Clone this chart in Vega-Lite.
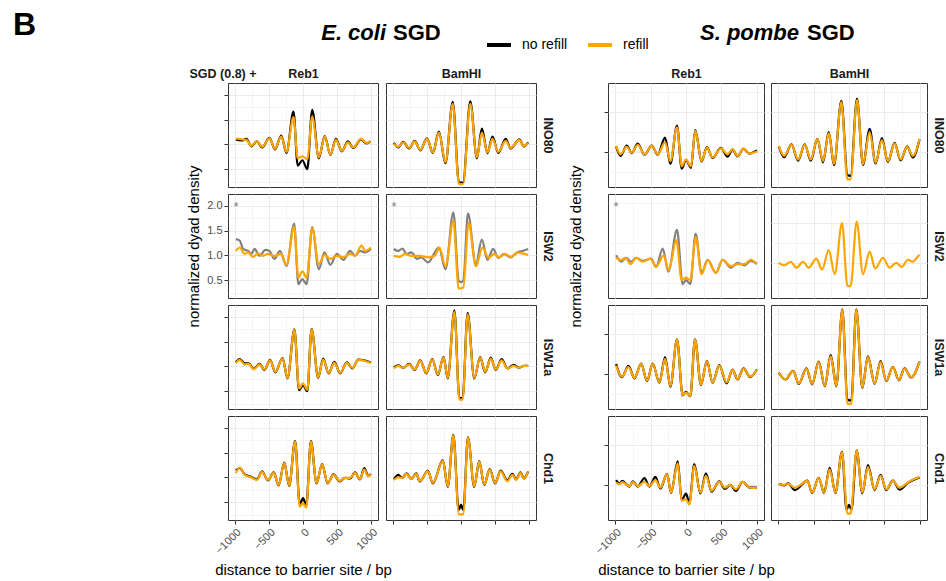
{
"$schema": "https://vega.github.io/schema/vega-lite/v6.json",
"padding": {"left": 12, "top": 8, "right": 4, "bottom": 2},
"title": {"text": "B", "orient": "left", "anchor": "end", "angle": 0, "align": "right", "baseline": "top", "fontSize": 32, "offset": 127, "dy": -12},
"datasets": {
"E_Reb1_INO80": [
{"cond":"no refill","x":-985,"y":1.10},{"cond":"no refill","x":-900,"y":1.08},{"cond":"no refill","x":-830,"y":1.11},{"cond":"no refill","x":-758,"y":0.96},{"cond":"no refill","x":-676,"y":1.06},{"cond":"no refill","x":-599,"y":0.94},{"cond":"no refill","x":-493,"y":1.13},{"cond":"no refill","x":-411,"y":0.90},{"cond":"no refill","x":-319,"y":1.18},{"cond":"no refill","x":-242,"y":0.83},{"cond":"no refill","x":-140,"y":1.66},{"cond":"no refill","x":-77,"y":0.57},{"cond":"no refill","x":-10,"y":0.68},{"cond":"no refill","x":63,"y":0.50},{"cond":"no refill","x":135,"y":1.70},{"cond":"no refill","x":232,"y":0.72},{"cond":"no refill","x":319,"y":1.17},{"cond":"no refill","x":401,"y":0.79},{"cond":"no refill","x":483,"y":1.11},{"cond":"no refill","x":570,"y":0.86},{"cond":"no refill","x":657,"y":1.06},{"cond":"no refill","x":739,"y":0.93},{"cond":"no refill","x":850,"y":1.10},{"cond":"no refill","x":932,"y":1.02},{"cond":"no refill","x":990,"y":1.06},
{"cond":"refill","x":-985,"y":1.12},{"cond":"refill","x":-900,"y":1.10},{"cond":"refill","x":-830,"y":1.09},{"cond":"refill","x":-758,"y":0.97},{"cond":"refill","x":-676,"y":1.06},{"cond":"refill","x":-599,"y":0.95},{"cond":"refill","x":-493,"y":1.12},{"cond":"refill","x":-411,"y":0.91},{"cond":"refill","x":-319,"y":1.16},{"cond":"refill","x":-242,"y":0.85},{"cond":"refill","x":-140,"y":1.55},{"cond":"refill","x":-77,"y":0.72},{"cond":"refill","x":-10,"y":0.76},{"cond":"refill","x":63,"y":0.70},{"cond":"refill","x":135,"y":1.56},{"cond":"refill","x":232,"y":0.74},{"cond":"refill","x":319,"y":1.16},{"cond":"refill","x":401,"y":0.80},{"cond":"refill","x":483,"y":1.09},{"cond":"refill","x":570,"y":0.87},{"cond":"refill","x":657,"y":1.04},{"cond":"refill","x":739,"y":0.94},{"cond":"refill","x":850,"y":1.11},{"cond":"refill","x":932,"y":1.03},{"cond":"refill","x":990,"y":1.06}
],
"E_BamHI_INO80": [
{"cond":"no refill","x":-985,"y":1.03},{"cond":"no refill","x":-921,"y":0.94},{"cond":"no refill","x":-849,"y":1.05},{"cond":"no refill","x":-761,"y":0.92},{"cond":"no refill","x":-679,"y":1.07},{"cond":"no refill","x":-597,"y":0.88},{"cond":"no refill","x":-500,"y":1.12},{"cond":"no refill","x":-412,"y":0.83},{"cond":"no refill","x":-325,"y":1.26},{"cond":"no refill","x":-228,"y":0.62},{"cond":"no refill","x":-121,"y":1.86},{"cond":"no refill","x":-30,"y":0.23},{"cond":"no refill","x":30,"y":0.23},{"cond":"no refill","x":136,"y":1.87},{"cond":"no refill","x":233,"y":0.72},{"cond":"no refill","x":306,"y":1.32},{"cond":"no refill","x":388,"y":0.82},{"cond":"no refill","x":461,"y":1.16},{"cond":"no refill","x":548,"y":0.83},{"cond":"no refill","x":655,"y":1.11},{"cond":"no refill","x":728,"y":0.92},{"cond":"no refill","x":858,"y":1.10},{"cond":"no refill","x":921,"y":0.96},{"cond":"no refill","x":985,"y":1.04},
{"cond":"refill","x":-985,"y":1.02},{"cond":"refill","x":-921,"y":0.95},{"cond":"refill","x":-849,"y":1.04},{"cond":"refill","x":-761,"y":0.93},{"cond":"refill","x":-679,"y":1.06},{"cond":"refill","x":-597,"y":0.89},{"cond":"refill","x":-500,"y":1.11},{"cond":"refill","x":-412,"y":0.84},{"cond":"refill","x":-325,"y":1.24},{"cond":"refill","x":-228,"y":0.64},{"cond":"refill","x":-121,"y":1.82},{"cond":"refill","x":-30,"y":0.20},{"cond":"refill","x":30,"y":0.20},{"cond":"refill","x":136,"y":1.82},{"cond":"refill","x":233,"y":0.74},{"cond":"refill","x":306,"y":1.24},{"cond":"refill","x":388,"y":0.84},{"cond":"refill","x":461,"y":1.11},{"cond":"refill","x":548,"y":0.85},{"cond":"refill","x":655,"y":1.07},{"cond":"refill","x":728,"y":0.93},{"cond":"refill","x":858,"y":1.09},{"cond":"refill","x":921,"y":0.97},{"cond":"refill","x":985,"y":1.03}
],
"E_Reb1_ISW2": [
{"cond":"*no refill","x":-985,"y":1.33},{"cond":"*no refill","x":-927,"y":1.30},{"cond":"*no refill","x":-879,"y":1.13},{"cond":"*no refill","x":-807,"y":1.09},{"cond":"*no refill","x":-758,"y":1.03},{"cond":"*no refill","x":-710,"y":1.13},{"cond":"*no refill","x":-638,"y":0.99},{"cond":"*no refill","x":-551,"y":1.11},{"cond":"*no refill","x":-493,"y":1.09},{"cond":"*no refill","x":-420,"y":0.93},{"cond":"*no refill","x":-338,"y":1.09},{"cond":"*no refill","x":-242,"y":0.79},{"cond":"*no refill","x":-130,"y":1.64},{"cond":"*no refill","x":-68,"y":0.42},{"cond":"*no refill","x":-10,"y":0.52},{"cond":"*no refill","x":53,"y":0.42},{"cond":"*no refill","x":135,"y":1.57},{"cond":"*no refill","x":232,"y":0.72},{"cond":"*no refill","x":314,"y":1.06},{"cond":"*no refill","x":401,"y":0.81},{"cond":"*no refill","x":497,"y":1.03},{"cond":"*no refill","x":594,"y":0.91},{"cond":"*no refill","x":691,"y":1.09},{"cond":"*no refill","x":763,"y":0.99},{"cond":"*no refill","x":836,"y":1.09},{"cond":"*no refill","x":908,"y":1.06},{"cond":"*no refill","x":995,"y":1.13},
{"cond":"refill","x":-985,"y":1.09},{"cond":"refill","x":-927,"y":1.16},{"cond":"refill","x":-855,"y":1.03},{"cond":"refill","x":-807,"y":1.06},{"cond":"refill","x":-734,"y":0.97},{"cond":"refill","x":-662,"y":1.04},{"cond":"refill","x":-589,"y":0.99},{"cond":"refill","x":-517,"y":1.03},{"cond":"refill","x":-420,"y":0.99},{"cond":"refill","x":-324,"y":1.03},{"cond":"refill","x":-242,"y":0.81},{"cond":"refill","x":-130,"y":1.58},{"cond":"refill","x":-68,"y":0.55},{"cond":"refill","x":-10,"y":0.68},{"cond":"refill","x":53,"y":0.55},{"cond":"refill","x":135,"y":1.55},{"cond":"refill","x":232,"y":0.82},{"cond":"refill","x":314,"y":1.01},{"cond":"refill","x":401,"y":0.93},{"cond":"refill","x":497,"y":0.99},{"cond":"refill","x":594,"y":0.96},{"cond":"refill","x":691,"y":1.03},{"cond":"refill","x":763,"y":0.99},{"cond":"refill","x":860,"y":1.20},{"cond":"refill","x":908,"y":1.09},{"cond":"refill","x":995,"y":1.16}
],
"E_BamHI_ISW2": [
{"cond":"*no refill","x":-985,"y":1.13},{"cond":"*no refill","x":-921,"y":1.09},{"cond":"*no refill","x":-858,"y":1.14},{"cond":"*no refill","x":-800,"y":1.03},{"cond":"*no refill","x":-728,"y":1.06},{"cond":"*no refill","x":-645,"y":0.93},{"cond":"*no refill","x":-582,"y":0.96},{"cond":"*no refill","x":-485,"y":0.86},{"cond":"*no refill","x":-325,"y":1.16},{"cond":"*no refill","x":-228,"y":0.72},{"cond":"*no refill","x":-112,"y":1.87},{"cond":"*no refill","x":-34,"y":0.49},{"cond":"*no refill","x":0,"y":0.46},{"cond":"*no refill","x":34,"y":0.49},{"cond":"*no refill","x":102,"y":1.85},{"cond":"*no refill","x":218,"y":0.82},{"cond":"*no refill","x":306,"y":1.32},{"cond":"*no refill","x":388,"y":0.91},{"cond":"*no refill","x":470,"y":1.13},{"cond":"*no refill","x":548,"y":0.95},{"cond":"*no refill","x":630,"y":1.03},{"cond":"*no refill","x":728,"y":0.96},{"cond":"*no refill","x":825,"y":1.06},{"cond":"*no refill","x":897,"y":1.09},{"cond":"*no refill","x":985,"y":1.13},
{"cond":"refill","x":-985,"y":0.99},{"cond":"refill","x":-897,"y":0.97},{"cond":"refill","x":-825,"y":1.03},{"cond":"refill","x":-728,"y":0.99},{"cond":"refill","x":-606,"y":0.99},{"cond":"refill","x":-485,"y":0.96},{"cond":"refill","x":-388,"y":0.99},{"cond":"refill","x":-315,"y":1.16},{"cond":"refill","x":-228,"y":0.78},{"cond":"refill","x":-112,"y":1.70},{"cond":"refill","x":-34,"y":0.33},{"cond":"refill","x":34,"y":0.35},{"cond":"refill","x":112,"y":1.66},{"cond":"refill","x":218,"y":0.78},{"cond":"refill","x":315,"y":1.16},{"cond":"refill","x":403,"y":0.95},{"cond":"refill","x":485,"y":1.03},{"cond":"refill","x":558,"y":0.96},{"cond":"refill","x":645,"y":1.03},{"cond":"refill","x":728,"y":0.97},{"cond":"refill","x":825,"y":1.06},{"cond":"refill","x":897,"y":1.04},{"cond":"refill","x":985,"y":1.01}
],
"E_Reb1_ISW1a": [
{"cond":"no refill","x":-985,"y":1.09},{"cond":"no refill","x":-927,"y":1.15},{"cond":"no refill","x":-855,"y":1.06},{"cond":"no refill","x":-797,"y":1.06},{"cond":"no refill","x":-724,"y":0.95},{"cond":"no refill","x":-638,"y":1.05},{"cond":"no refill","x":-565,"y":0.93},{"cond":"no refill","x":-483,"y":1.13},{"cond":"no refill","x":-406,"y":0.88},{"cond":"no refill","x":-300,"y":1.17},{"cond":"no refill","x":-227,"y":0.76},{"cond":"no refill","x":-126,"y":1.75},{"cond":"no refill","x":-58,"y":0.52},{"cond":"no refill","x":0,"y":0.62},{"cond":"no refill","x":63,"y":0.50},{"cond":"no refill","x":126,"y":1.76},{"cond":"no refill","x":222,"y":0.77},{"cond":"no refill","x":295,"y":1.16},{"cond":"no refill","x":377,"y":0.86},{"cond":"no refill","x":459,"y":1.09},{"cond":"no refill","x":546,"y":0.86},{"cond":"no refill","x":642,"y":1.08},{"cond":"no refill","x":725,"y":0.96},{"cond":"no refill","x":811,"y":1.14},{"cond":"no refill","x":908,"y":1.12},{"cond":"no refill","x":995,"y":1.08},
{"cond":"refill","x":-985,"y":1.07},{"cond":"refill","x":-927,"y":1.13},{"cond":"refill","x":-855,"y":1.04},{"cond":"refill","x":-797,"y":1.05},{"cond":"refill","x":-724,"y":0.94},{"cond":"refill","x":-638,"y":1.04},{"cond":"refill","x":-565,"y":0.94},{"cond":"refill","x":-483,"y":1.12},{"cond":"refill","x":-406,"y":0.89},{"cond":"refill","x":-300,"y":1.16},{"cond":"refill","x":-227,"y":0.77},{"cond":"refill","x":-126,"y":1.74},{"cond":"refill","x":-58,"y":0.55},{"cond":"refill","x":0,"y":0.66},{"cond":"refill","x":63,"y":0.53},{"cond":"refill","x":126,"y":1.75},{"cond":"refill","x":222,"y":0.78},{"cond":"refill","x":295,"y":1.14},{"cond":"refill","x":377,"y":0.87},{"cond":"refill","x":459,"y":1.07},{"cond":"refill","x":546,"y":0.87},{"cond":"refill","x":642,"y":1.07},{"cond":"refill","x":725,"y":0.97},{"cond":"refill","x":811,"y":1.13},{"cond":"refill","x":908,"y":1.11},{"cond":"refill","x":995,"y":1.07}
],
"E_BamHI_ISW1a": [
{"cond":"no refill","x":-985,"y":0.98},{"cond":"no refill","x":-921,"y":1.02},{"cond":"no refill","x":-849,"y":0.97},{"cond":"no refill","x":-761,"y":1.05},{"cond":"no refill","x":-679,"y":0.93},{"cond":"no refill","x":-597,"y":1.12},{"cond":"no refill","x":-509,"y":0.86},{"cond":"no refill","x":-422,"y":1.15},{"cond":"no refill","x":-339,"y":0.83},{"cond":"no refill","x":-257,"y":1.19},{"cond":"no refill","x":-194,"y":0.76},{"cond":"no refill","x":-97,"y":2.13},{"cond":"no refill","x":-24,"y":0.36},{"cond":"no refill","x":24,"y":0.36},{"cond":"no refill","x":97,"y":2.08},{"cond":"no refill","x":194,"y":0.76},{"cond":"no refill","x":281,"y":1.19},{"cond":"no refill","x":354,"y":0.88},{"cond":"no refill","x":437,"y":1.18},{"cond":"no refill","x":509,"y":0.93},{"cond":"no refill","x":597,"y":1.15},{"cond":"no refill","x":679,"y":0.96},{"cond":"no refill","x":776,"y":1.03},{"cond":"no refill","x":849,"y":0.97},{"cond":"no refill","x":921,"y":1.01},{"cond":"no refill","x":985,"y":1.01},
{"cond":"refill","x":-985,"y":0.96},{"cond":"refill","x":-921,"y":1.01},{"cond":"refill","x":-849,"y":0.97},{"cond":"refill","x":-761,"y":1.04},{"cond":"refill","x":-679,"y":0.94},{"cond":"refill","x":-597,"y":1.11},{"cond":"refill","x":-509,"y":0.87},{"cond":"refill","x":-422,"y":1.14},{"cond":"refill","x":-339,"y":0.84},{"cond":"refill","x":-257,"y":1.18},{"cond":"refill","x":-194,"y":0.77},{"cond":"refill","x":-97,"y":2.10},{"cond":"refill","x":-24,"y":0.33},{"cond":"refill","x":24,"y":0.33},{"cond":"refill","x":97,"y":2.05},{"cond":"refill","x":194,"y":0.77},{"cond":"refill","x":281,"y":1.18},{"cond":"refill","x":354,"y":0.89},{"cond":"refill","x":437,"y":1.16},{"cond":"refill","x":509,"y":0.94},{"cond":"refill","x":597,"y":1.12},{"cond":"refill","x":679,"y":0.96},{"cond":"refill","x":776,"y":1.01},{"cond":"refill","x":849,"y":0.97},{"cond":"refill","x":921,"y":1.01},{"cond":"refill","x":985,"y":1.01}
],
"E_Reb1_Chd1": [
{"cond":"no refill","x":-985,"y":1.14},{"cond":"no refill","x":-927,"y":1.19},{"cond":"no refill","x":-855,"y":1.06},{"cond":"no refill","x":-758,"y":1.01},{"cond":"no refill","x":-676,"y":0.96},{"cond":"no refill","x":-599,"y":1.12},{"cond":"no refill","x":-517,"y":0.94},{"cond":"no refill","x":-430,"y":1.10},{"cond":"no refill","x":-357,"y":0.84},{"cond":"no refill","x":-275,"y":1.30},{"cond":"no refill","x":-203,"y":0.83},{"cond":"no refill","x":-116,"y":1.74},{"cond":"no refill","x":-48,"y":0.45},{"cond":"no refill","x":0,"y":0.58},{"cond":"no refill","x":48,"y":0.44},{"cond":"no refill","x":116,"y":1.74},{"cond":"no refill","x":198,"y":0.88},{"cond":"no refill","x":280,"y":1.27},{"cond":"no refill","x":362,"y":0.88},{"cond":"no refill","x":449,"y":1.06},{"cond":"no refill","x":536,"y":0.92},{"cond":"no refill","x":618,"y":0.99},{"cond":"no refill","x":691,"y":0.98},{"cond":"no refill","x":763,"y":1.10},{"cond":"no refill","x":836,"y":0.96},{"cond":"no refill","x":898,"y":1.19},{"cond":"no refill","x":956,"y":1.03},{"cond":"no refill","x":995,"y":1.07},
{"cond":"refill","x":-985,"y":1.09},{"cond":"refill","x":-927,"y":1.20},{"cond":"refill","x":-855,"y":1.05},{"cond":"refill","x":-758,"y":1.00},{"cond":"refill","x":-676,"y":0.95},{"cond":"refill","x":-599,"y":1.11},{"cond":"refill","x":-517,"y":0.95},{"cond":"refill","x":-430,"y":1.09},{"cond":"refill","x":-357,"y":0.85},{"cond":"refill","x":-275,"y":1.29},{"cond":"refill","x":-203,"y":0.84},{"cond":"refill","x":-116,"y":1.73},{"cond":"refill","x":-48,"y":0.41},{"cond":"refill","x":0,"y":0.48},{"cond":"refill","x":48,"y":0.39},{"cond":"refill","x":116,"y":1.73},{"cond":"refill","x":198,"y":0.89},{"cond":"refill","x":280,"y":1.26},{"cond":"refill","x":362,"y":0.89},{"cond":"refill","x":449,"y":1.05},{"cond":"refill","x":536,"y":0.93},{"cond":"refill","x":618,"y":0.99},{"cond":"refill","x":691,"y":0.99},{"cond":"refill","x":763,"y":1.09},{"cond":"refill","x":836,"y":0.97},{"cond":"refill","x":898,"y":1.16},{"cond":"refill","x":956,"y":1.02},{"cond":"refill","x":995,"y":1.07}
],
"E_BamHI_Chd1": [
{"cond":"no refill","x":-985,"y":0.96},{"cond":"no refill","x":-921,"y":1.05},{"cond":"no refill","x":-858,"y":0.99},{"cond":"no refill","x":-800,"y":1.08},{"cond":"no refill","x":-728,"y":0.97},{"cond":"no refill","x":-655,"y":1.08},{"cond":"no refill","x":-606,"y":0.92},{"cond":"no refill","x":-485,"y":1.13},{"cond":"no refill","x":-412,"y":0.88},{"cond":"no refill","x":-267,"y":1.35},{"cond":"no refill","x":-194,"y":0.81},{"cond":"no refill","x":-112,"y":1.86},{"cond":"no refill","x":-34,"y":0.34},{"cond":"no refill","x":0,"y":0.45},{"cond":"no refill","x":34,"y":0.34},{"cond":"no refill","x":102,"y":1.81},{"cond":"no refill","x":194,"y":0.81},{"cond":"no refill","x":267,"y":1.33},{"cond":"no refill","x":340,"y":0.85},{"cond":"no refill","x":422,"y":1.17},{"cond":"no refill","x":500,"y":0.88},{"cond":"no refill","x":582,"y":1.14},{"cond":"no refill","x":679,"y":0.94},{"cond":"no refill","x":752,"y":1.07},{"cond":"no refill","x":810,"y":0.96},{"cond":"no refill","x":873,"y":1.10},{"cond":"no refill","x":921,"y":0.98},{"cond":"no refill","x":985,"y":1.12},
{"cond":"refill","x":-985,"y":0.95},{"cond":"refill","x":-921,"y":1.00},{"cond":"refill","x":-858,"y":0.99},{"cond":"refill","x":-800,"y":1.07},{"cond":"refill","x":-728,"y":0.97},{"cond":"refill","x":-655,"y":1.07},{"cond":"refill","x":-606,"y":0.93},{"cond":"refill","x":-485,"y":1.12},{"cond":"refill","x":-412,"y":0.89},{"cond":"refill","x":-267,"y":1.34},{"cond":"refill","x":-194,"y":0.82},{"cond":"refill","x":-112,"y":1.85},{"cond":"refill","x":-34,"y":0.26},{"cond":"refill","x":0,"y":0.25},{"cond":"refill","x":34,"y":0.26},{"cond":"refill","x":102,"y":1.80},{"cond":"refill","x":194,"y":0.82},{"cond":"refill","x":267,"y":1.32},{"cond":"refill","x":340,"y":0.86},{"cond":"refill","x":422,"y":1.16},{"cond":"refill","x":500,"y":0.89},{"cond":"refill","x":582,"y":1.12},{"cond":"refill","x":679,"y":0.92},{"cond":"refill","x":752,"y":1.05},{"cond":"refill","x":810,"y":0.95},{"cond":"refill","x":873,"y":1.09},{"cond":"refill","x":921,"y":0.97},{"cond":"refill","x":985,"y":1.12}
],
"S_Reb1_INO80": [
{"cond":"no refill","x":-985,"y":1.13},{"cond":"no refill","x":-924,"y":0.90},{"cond":"no refill","x":-835,"y":1.16},{"cond":"no refill","x":-765,"y":0.97},{"cond":"no refill","x":-680,"y":1.21},{"cond":"no refill","x":-586,"y":0.93},{"cond":"no refill","x":-483,"y":1.16},{"cond":"no refill","x":-399,"y":0.93},{"cond":"no refill","x":-295,"y":1.36},{"cond":"no refill","x":-220,"y":0.70},{"cond":"no refill","x":-127,"y":1.66},{"cond":"no refill","x":-61,"y":0.58},{"cond":"no refill","x":0,"y":0.80},{"cond":"no refill","x":70,"y":0.60},{"cond":"no refill","x":131,"y":1.55},{"cond":"no refill","x":220,"y":0.76},{"cond":"no refill","x":295,"y":1.12},{"cond":"no refill","x":375,"y":0.85},{"cond":"no refill","x":492,"y":1.10},{"cond":"no refill","x":586,"y":0.88},{"cond":"no refill","x":657,"y":1.06},{"cond":"no refill","x":727,"y":0.89},{"cond":"no refill","x":811,"y":1.08},{"cond":"no refill","x":891,"y":0.96},{"cond":"no refill","x":999,"y":1.04},
{"cond":"refill","x":-985,"y":1.15},{"cond":"refill","x":-924,"y":0.94},{"cond":"refill","x":-835,"y":1.13},{"cond":"refill","x":-765,"y":0.98},{"cond":"refill","x":-680,"y":1.18},{"cond":"refill","x":-586,"y":0.94},{"cond":"refill","x":-483,"y":1.15},{"cond":"refill","x":-399,"y":0.94},{"cond":"refill","x":-295,"y":1.24},{"cond":"refill","x":-220,"y":0.77},{"cond":"refill","x":-127,"y":1.62},{"cond":"refill","x":-61,"y":0.64},{"cond":"refill","x":0,"y":0.81},{"cond":"refill","x":70,"y":0.64},{"cond":"refill","x":131,"y":1.53},{"cond":"refill","x":220,"y":0.77},{"cond":"refill","x":295,"y":1.11},{"cond":"refill","x":375,"y":0.86},{"cond":"refill","x":492,"y":1.09},{"cond":"refill","x":586,"y":0.94},{"cond":"refill","x":657,"y":1.07},{"cond":"refill","x":727,"y":0.90},{"cond":"refill","x":811,"y":1.09},{"cond":"refill","x":891,"y":0.96},{"cond":"refill","x":999,"y":1.01}
],
"S_BamHI_INO80": [
{"cond":"no refill","x":-990,"y":1.14},{"cond":"no refill","x":-915,"y":0.87},{"cond":"no refill","x":-811,"y":1.19},{"cond":"no refill","x":-718,"y":0.78},{"cond":"no refill","x":-624,"y":1.19},{"cond":"no refill","x":-539,"y":0.78},{"cond":"no refill","x":-446,"y":1.33},{"cond":"no refill","x":-366,"y":0.74},{"cond":"no refill","x":-286,"y":1.50},{"cond":"no refill","x":-211,"y":0.67},{"cond":"no refill","x":-108,"y":2.28},{"cond":"no refill","x":-23,"y":0.42},{"cond":"no refill","x":23,"y":0.40},{"cond":"no refill","x":113,"y":2.34},{"cond":"no refill","x":197,"y":0.67},{"cond":"no refill","x":291,"y":1.58},{"cond":"no refill","x":375,"y":0.71},{"cond":"no refill","x":464,"y":1.35},{"cond":"no refill","x":549,"y":0.75},{"cond":"no refill","x":643,"y":1.23},{"cond":"no refill","x":727,"y":0.79},{"cond":"no refill","x":821,"y":1.14},{"cond":"no refill","x":900,"y":0.86},{"cond":"no refill","x":994,"y":1.31},
{"cond":"refill","x":-990,"y":1.15},{"cond":"refill","x":-915,"y":0.90},{"cond":"refill","x":-811,"y":1.18},{"cond":"refill","x":-718,"y":0.81},{"cond":"refill","x":-624,"y":1.18},{"cond":"refill","x":-539,"y":0.81},{"cond":"refill","x":-446,"y":1.32},{"cond":"refill","x":-366,"y":0.77},{"cond":"refill","x":-286,"y":1.47},{"cond":"refill","x":-211,"y":0.70},{"cond":"refill","x":-108,"y":2.25},{"cond":"refill","x":-23,"y":0.31},{"cond":"refill","x":23,"y":0.31},{"cond":"refill","x":113,"y":2.30},{"cond":"refill","x":197,"y":0.69},{"cond":"refill","x":291,"y":1.49},{"cond":"refill","x":375,"y":0.73},{"cond":"refill","x":464,"y":1.30},{"cond":"refill","x":549,"y":0.77},{"cond":"refill","x":643,"y":1.21},{"cond":"refill","x":727,"y":0.81},{"cond":"refill","x":821,"y":1.13},{"cond":"refill","x":900,"y":0.90},{"cond":"refill","x":994,"y":1.32}
],
"S_Reb1_ISW2": [
{"cond":"*no refill","x":-985,"y":1.19},{"cond":"*no refill","x":-915,"y":1.03},{"cond":"*no refill","x":-844,"y":1.13},{"cond":"*no refill","x":-774,"y":1.03},{"cond":"*no refill","x":-704,"y":1.13},{"cond":"*no refill","x":-610,"y":1.05},{"cond":"*no refill","x":-492,"y":1.11},{"cond":"*no refill","x":-422,"y":0.90},{"cond":"*no refill","x":-328,"y":1.36},{"cond":"*no refill","x":-249,"y":0.78},{"cond":"*no refill","x":-127,"y":1.83},{"cond":"*no refill","x":-47,"y":0.47},{"cond":"*no refill","x":0,"y":0.57},{"cond":"*no refill","x":61,"y":0.47},{"cond":"*no refill","x":136,"y":1.73},{"cond":"*no refill","x":220,"y":0.75},{"cond":"*no refill","x":305,"y":1.08},{"cond":"*no refill","x":422,"y":0.75},{"cond":"*no refill","x":516,"y":1.08},{"cond":"*no refill","x":633,"y":0.88},{"cond":"*no refill","x":727,"y":1.00},{"cond":"*no refill","x":821,"y":0.94},{"cond":"*no refill","x":915,"y":1.05},{"cond":"*no refill","x":999,"y":0.98},
{"cond":"refill","x":-985,"y":1.13},{"cond":"refill","x":-915,"y":1.07},{"cond":"refill","x":-854,"y":1.13},{"cond":"refill","x":-783,"y":0.97},{"cond":"refill","x":-704,"y":1.13},{"cond":"refill","x":-610,"y":1.03},{"cond":"refill","x":-502,"y":1.11},{"cond":"refill","x":-422,"y":0.90},{"cond":"refill","x":-314,"y":1.19},{"cond":"refill","x":-244,"y":0.82},{"cond":"refill","x":-136,"y":1.57},{"cond":"refill","x":-61,"y":0.57},{"cond":"refill","x":0,"y":0.63},{"cond":"refill","x":61,"y":0.57},{"cond":"refill","x":136,"y":1.65},{"cond":"refill","x":220,"y":0.72},{"cond":"refill","x":305,"y":1.07},{"cond":"refill","x":422,"y":0.75},{"cond":"refill","x":516,"y":1.08},{"cond":"refill","x":633,"y":0.92},{"cond":"refill","x":727,"y":0.97},{"cond":"refill","x":821,"y":0.97},{"cond":"refill","x":915,"y":1.08},{"cond":"refill","x":999,"y":0.97}
],
"S_BamHI_ISW2": [
{"cond":"refill","x":-990,"y":1.00},{"cond":"refill","x":-915,"y":0.94},{"cond":"refill","x":-821,"y":1.03},{"cond":"refill","x":-741,"y":0.88},{"cond":"refill","x":-647,"y":1.03},{"cond":"refill","x":-567,"y":0.88},{"cond":"refill","x":-460,"y":1.11},{"cond":"refill","x":-380,"y":0.83},{"cond":"refill","x":-286,"y":1.32},{"cond":"refill","x":-202,"y":0.72},{"cond":"refill","x":-98,"y":2.00},{"cond":"refill","x":-23,"y":0.42},{"cond":"refill","x":23,"y":0.42},{"cond":"refill","x":108,"y":2.04},{"cond":"refill","x":197,"y":0.72},{"cond":"refill","x":291,"y":1.28},{"cond":"refill","x":370,"y":0.86},{"cond":"refill","x":478,"y":1.13},{"cond":"refill","x":572,"y":0.88},{"cond":"refill","x":666,"y":1.00},{"cond":"refill","x":746,"y":0.90},{"cond":"refill","x":830,"y":1.08},{"cond":"refill","x":900,"y":1.03},{"cond":"refill","x":947,"y":1.11},{"cond":"refill","x":994,"y":1.21}
],
"S_Reb1_ISW1a": [
{"cond":"no refill","x":-985,"y":1.25},{"cond":"no refill","x":-905,"y":0.92},{"cond":"no refill","x":-811,"y":1.20},{"cond":"no refill","x":-727,"y":0.89},{"cond":"no refill","x":-633,"y":1.26},{"cond":"no refill","x":-549,"y":0.82},{"cond":"no refill","x":-469,"y":1.26},{"cond":"no refill","x":-375,"y":0.78},{"cond":"no refill","x":-295,"y":1.42},{"cond":"no refill","x":-220,"y":0.68},{"cond":"no refill","x":-127,"y":1.87},{"cond":"no refill","x":-47,"y":0.46},{"cond":"no refill","x":0,"y":0.55},{"cond":"no refill","x":61,"y":0.44},{"cond":"no refill","x":127,"y":1.87},{"cond":"no refill","x":211,"y":0.72},{"cond":"no refill","x":295,"y":1.33},{"cond":"no refill","x":375,"y":0.78},{"cond":"no refill","x":469,"y":1.22},{"cond":"no refill","x":572,"y":0.76},{"cond":"no refill","x":657,"y":1.11},{"cond":"no refill","x":727,"y":0.86},{"cond":"no refill","x":811,"y":1.14},{"cond":"no refill","x":905,"y":0.92},{"cond":"no refill","x":999,"y":1.11},
{"cond":"refill","x":-985,"y":1.21},{"cond":"refill","x":-905,"y":0.93},{"cond":"refill","x":-811,"y":1.17},{"cond":"refill","x":-727,"y":0.90},{"cond":"refill","x":-633,"y":1.25},{"cond":"refill","x":-549,"y":0.83},{"cond":"refill","x":-469,"y":1.25},{"cond":"refill","x":-375,"y":0.79},{"cond":"refill","x":-295,"y":1.38},{"cond":"refill","x":-220,"y":0.70},{"cond":"refill","x":-127,"y":1.86},{"cond":"refill","x":-47,"y":0.47},{"cond":"refill","x":0,"y":0.53},{"cond":"refill","x":61,"y":0.45},{"cond":"refill","x":127,"y":1.86},{"cond":"refill","x":211,"y":0.73},{"cond":"refill","x":295,"y":1.32},{"cond":"refill","x":375,"y":0.79},{"cond":"refill","x":469,"y":1.21},{"cond":"refill","x":572,"y":0.79},{"cond":"refill","x":657,"y":1.10},{"cond":"refill","x":727,"y":0.87},{"cond":"refill","x":811,"y":1.13},{"cond":"refill","x":905,"y":0.93},{"cond":"refill","x":999,"y":1.10}
],
"S_BamHI_ISW1a": [
{"cond":"no refill","x":-990,"y":1.03},{"cond":"no refill","x":-896,"y":0.86},{"cond":"no refill","x":-788,"y":1.08},{"cond":"no refill","x":-708,"y":0.75},{"cond":"no refill","x":-600,"y":1.14},{"cond":"no refill","x":-521,"y":0.74},{"cond":"no refill","x":-427,"y":1.31},{"cond":"no refill","x":-342,"y":0.69},{"cond":"no refill","x":-258,"y":1.47},{"cond":"no refill","x":-178,"y":0.69},{"cond":"no refill","x":-94,"y":2.62},{"cond":"no refill","x":-23,"y":0.36},{"cond":"no refill","x":33,"y":0.33},{"cond":"no refill","x":103,"y":2.62},{"cond":"no refill","x":188,"y":0.65},{"cond":"no refill","x":267,"y":1.44},{"cond":"no refill","x":361,"y":0.75},{"cond":"no refill","x":446,"y":1.32},{"cond":"no refill","x":525,"y":0.82},{"cond":"no refill","x":619,"y":1.18},{"cond":"no refill","x":704,"y":0.84},{"cond":"no refill","x":783,"y":1.14},{"cond":"no refill","x":877,"y":0.91},{"cond":"no refill","x":994,"y":1.31},
{"cond":"refill","x":-990,"y":1.02},{"cond":"refill","x":-896,"y":0.87},{"cond":"refill","x":-788,"y":1.07},{"cond":"refill","x":-708,"y":0.76},{"cond":"refill","x":-600,"y":1.13},{"cond":"refill","x":-521,"y":0.75},{"cond":"refill","x":-427,"y":1.30},{"cond":"refill","x":-342,"y":0.70},{"cond":"refill","x":-258,"y":1.44},{"cond":"refill","x":-178,"y":0.70},{"cond":"refill","x":-94,"y":2.61},{"cond":"refill","x":-23,"y":0.25},{"cond":"refill","x":33,"y":0.25},{"cond":"refill","x":103,"y":2.61},{"cond":"refill","x":188,"y":0.66},{"cond":"refill","x":267,"y":1.42},{"cond":"refill","x":361,"y":0.76},{"cond":"refill","x":446,"y":1.30},{"cond":"refill","x":525,"y":0.83},{"cond":"refill","x":619,"y":1.17},{"cond":"refill","x":704,"y":0.85},{"cond":"refill","x":783,"y":1.13},{"cond":"refill","x":877,"y":0.92},{"cond":"refill","x":994,"y":1.30}
],
"S_Reb1_Chd1": [
{"cond":"no refill","x":-985,"y":1.12},{"cond":"no refill","x":-940,"y":1.03},{"cond":"no refill","x":-900,"y":1.10},{"cond":"no refill","x":-797,"y":0.96},{"cond":"no refill","x":-750,"y":1.09},{"cond":"no refill","x":-680,"y":0.96},{"cond":"no refill","x":-586,"y":1.17},{"cond":"no refill","x":-516,"y":0.96},{"cond":"no refill","x":-431,"y":1.20},{"cond":"no refill","x":-361,"y":0.91},{"cond":"no refill","x":-267,"y":1.28},{"cond":"no refill","x":-211,"y":0.80},{"cond":"no refill","x":-117,"y":1.59},{"cond":"no refill","x":-61,"y":0.62},{"cond":"no refill","x":0,"y":0.78},{"cond":"no refill","x":47,"y":0.55},{"cond":"no refill","x":117,"y":1.52},{"cond":"no refill","x":202,"y":0.79},{"cond":"no refill","x":281,"y":1.29},{"cond":"no refill","x":361,"y":0.83},{"cond":"no refill","x":469,"y":1.09},{"cond":"no refill","x":549,"y":0.90},{"cond":"no refill","x":624,"y":1.00},{"cond":"no refill","x":704,"y":0.85},{"cond":"no refill","x":797,"y":1.08},{"cond":"no refill","x":905,"y":0.93},{"cond":"no refill","x":999,"y":0.93},
{"cond":"refill","x":-985,"y":1.06},{"cond":"refill","x":-940,"y":1.02},{"cond":"refill","x":-900,"y":1.07},{"cond":"refill","x":-797,"y":0.97},{"cond":"refill","x":-750,"y":1.08},{"cond":"refill","x":-680,"y":0.97},{"cond":"refill","x":-586,"y":1.08},{"cond":"refill","x":-516,"y":0.97},{"cond":"refill","x":-431,"y":1.12},{"cond":"refill","x":-361,"y":0.93},{"cond":"refill","x":-267,"y":1.27},{"cond":"refill","x":-211,"y":0.81},{"cond":"refill","x":-117,"y":1.54},{"cond":"refill","x":-61,"y":0.60},{"cond":"refill","x":0,"y":0.64},{"cond":"refill","x":47,"y":0.51},{"cond":"refill","x":117,"y":1.48},{"cond":"refill","x":202,"y":0.81},{"cond":"refill","x":281,"y":1.23},{"cond":"refill","x":361,"y":0.85},{"cond":"refill","x":469,"y":1.08},{"cond":"refill","x":549,"y":0.93},{"cond":"refill","x":624,"y":1.00},{"cond":"refill","x":704,"y":0.89},{"cond":"refill","x":797,"y":1.08},{"cond":"refill","x":905,"y":0.93},{"cond":"refill","x":999,"y":0.92}
],
"S_BamHI_Chd1": [
{"cond":"no refill","x":-990,"y":1.03},{"cond":"no refill","x":-915,"y":0.99},{"cond":"no refill","x":-858,"y":1.04},{"cond":"no refill","x":-764,"y":0.87},{"cond":"no refill","x":-586,"y":1.11},{"cond":"no refill","x":-521,"y":0.80},{"cond":"no refill","x":-427,"y":1.18},{"cond":"no refill","x":-352,"y":0.80},{"cond":"no refill","x":-272,"y":1.43},{"cond":"no refill","x":-192,"y":0.80},{"cond":"no refill","x":-98,"y":1.83},{"cond":"no refill","x":-35,"y":0.38},{"cond":"no refill","x":0,"y":0.50},{"cond":"no refill","x":35,"y":0.38},{"cond":"no refill","x":108,"y":1.87},{"cond":"no refill","x":188,"y":0.79},{"cond":"no refill","x":267,"y":1.50},{"cond":"no refill","x":361,"y":0.87},{"cond":"no refill","x":446,"y":1.25},{"cond":"no refill","x":525,"y":0.87},{"cond":"no refill","x":619,"y":1.11},{"cond":"no refill","x":713,"y":0.88},{"cond":"no refill","x":830,"y":1.05},{"cond":"no refill","x":914,"y":1.13},{"cond":"no refill","x":994,"y":1.19},
{"cond":"refill","x":-990,"y":1.02},{"cond":"refill","x":-915,"y":1.00},{"cond":"refill","x":-858,"y":1.03},{"cond":"refill","x":-764,"y":0.93},{"cond":"refill","x":-586,"y":1.10},{"cond":"refill","x":-521,"y":0.81},{"cond":"refill","x":-427,"y":1.17},{"cond":"refill","x":-352,"y":0.81},{"cond":"refill","x":-272,"y":1.39},{"cond":"refill","x":-192,"y":0.81},{"cond":"refill","x":-98,"y":1.82},{"cond":"refill","x":-23,"y":0.28},{"cond":"refill","x":23,"y":0.28},{"cond":"refill","x":108,"y":1.86},{"cond":"refill","x":188,"y":0.81},{"cond":"refill","x":267,"y":1.45},{"cond":"refill","x":361,"y":0.89},{"cond":"refill","x":446,"y":1.23},{"cond":"refill","x":525,"y":0.89},{"cond":"refill","x":619,"y":1.10},{"cond":"refill","x":713,"y":0.93},{"cond":"refill","x":830,"y":1.06},{"cond":"refill","x":914,"y":1.14},{"cond":"refill","x":994,"y":1.20}
]
},
"spacing": 13,
"hconcat": [
{"columns": 2, "spacing": {"row": 7, "column": 8}, "bounds": "flush", "concat": [
{"width":150,"height":104,"data":{"name":"E_Reb1_INO80"},
 "title":{"text":"E. coli","anchor":"end","dx":8,"offset":22,"fontStyle":"italic"},
 "mark":{"type":"line","interpolate":"monotone","strokeWidth":2.2},
 "encoding":{
  "x":{"field":"x","type":"quantitative","scale":{"domain":[-1100,1100],"nice":false,"zero":false},"axis":{"orient":"top","values":[-1000,-750,-500,-250,0,250,500,750,1000],"labels":false,"ticks":false,"gridWidth":{"condition":{"test":"datum.value % 500 != 0","value":0.5},"value":1},"title":"Reb1","titleFontWeight":"bold","titleFontSize":12.5,"titleColor":"#1A1A1A","titlePadding":3}},
  "y":{"field":"y","type":"quantitative","scale":{"domain":[0.14,2.24],"nice":false,"zero":false},"axis":{"values":[0.25,0.5,0.75,1,1.25,1.5,1.75,2],"labels":false,"tickOpacity":{"condition":{"test":"(datum.value*2) % 1 != 0","value":0},"value":1},"gridWidth":{"condition":{"test":"(datum.value*2) % 1 != 0","value":0.5},"value":1},"title":"SGD (0.8) +","titleAngle":0,"titleX":-39,"titleY":-6,"titleAlign":"left","titleBaseline":"alphabetic","titleFontWeight":"bold","titleFontSize":12.5,"titleColor":"#1A1A1A"}},
  "color":{"field":"cond","type":"nominal","scale":{"domain":["*no refill","no refill","refill"],"range":["#808080","#000000","#FFA500"]},"legend":{"values":["no refill","refill"],"title":null,"orient":"none","legendX":257,"legendY":-52,"direction":"horizontal"}}
 }},
{"width":150,"height":104,"data":{"name":"E_BamHI_INO80"},
 "title":{"text":"SGD","anchor":"start","dx":7,"offset":22},
 "mark":{"type":"line","interpolate":"monotone","strokeWidth":2.2},
 "encoding":{
  "x":{"field":"x","type":"quantitative","scale":{"domain":[-1100,1100],"nice":false,"zero":false},"axis":{"orient":"top","values":[-1000,-750,-500,-250,0,250,500,750,1000],"labels":false,"ticks":false,"gridWidth":{"condition":{"test":"datum.value % 500 != 0","value":0.5},"value":1},"title":"BamHI","titleFontWeight":"bold","titleFontSize":12.5,"titleColor":"#1A1A1A","titlePadding":3}},
  "y":{"field":"y","type":"quantitative","scale":{"domain":[0.14,2.24],"nice":false,"zero":false},"axis":{"orient":"right","values":[0.25,0.5,0.75,1,1.25,1.5,1.75,2],"labels":false,"ticks":false,"gridWidth":{"condition":{"test":"(datum.value*2) % 1 != 0","value":0.5},"value":1},"title":"INO80","titleFontWeight":"bold","titleFontSize":12.5,"titleColor":"#1A1A1A","titlePadding":4}},
  "color":{"field":"cond","type":"nominal","scale":{"domain":["*no refill","no refill","refill"],"range":["#808080","#000000","#FFA500"]},"legend":{"values":["no refill","refill"],"title":null,"orient":"none","legendX":257,"legendY":-52,"direction":"horizontal"}}
 }},
{"width":150,"height":104,"data":{"name":"E_Reb1_ISW2"},
 "mark":{"type":"line","interpolate":"monotone","strokeWidth":2.2},
 "encoding":{
  "x":{"field":"x","type":"quantitative","scale":{"domain":[-1100,1100],"nice":false,"zero":false},"axis":{"values":[-1000,-750,-500,-250,0,250,500,750,1000],"labels":false,"ticks":false,"gridWidth":{"condition":{"test":"datum.value % 500 != 0","value":0.5},"value":1},"title":"*","titleX":5,"titleY":-88,"titleAlign":"left","titleBaseline":"alphabetic","titleColor":"#808080","titleFontSize":13}},
  "y":{"field":"y","type":"quantitative","scale":{"domain":[0.14,2.24],"nice":false,"zero":false},"axis":{"values":[0.25,0.5,0.75,1,1.25,1.5,1.75,2],"format":".1f","labelExpr":"(datum.value*2) % 1 != 0 ? '' : datum.label","tickOpacity":{"condition":{"test":"(datum.value*2) % 1 != 0","value":0},"value":1},"gridWidth":{"condition":{"test":"(datum.value*2) % 1 != 0","value":0.5},"value":1},"title":"normalized dyad density","titlePadding":5}},
  "color":{"field":"cond","type":"nominal","scale":{"domain":["*no refill","no refill","refill"],"range":["#808080","#000000","#FFA500"]},"legend":{"values":["no refill","refill"],"title":null,"orient":"none","legendX":257,"legendY":-52,"direction":"horizontal"}}
 }},
{"width":150,"height":104,"data":{"name":"E_BamHI_ISW2"},
 "mark":{"type":"line","interpolate":"monotone","strokeWidth":2.2},
 "encoding":{
  "x":{"field":"x","type":"quantitative","scale":{"domain":[-1100,1100],"nice":false,"zero":false},"axis":{"values":[-1000,-750,-500,-250,0,250,500,750,1000],"labels":false,"ticks":false,"gridWidth":{"condition":{"test":"datum.value % 500 != 0","value":0.5},"value":1},"title":"*","titleX":5,"titleY":-88,"titleAlign":"left","titleBaseline":"alphabetic","titleColor":"#808080","titleFontSize":13}},
  "y":{"field":"y","type":"quantitative","scale":{"domain":[0.14,2.24],"nice":false,"zero":false},"axis":{"orient":"right","values":[0.25,0.5,0.75,1,1.25,1.5,1.75,2],"labels":false,"ticks":false,"gridWidth":{"condition":{"test":"(datum.value*2) % 1 != 0","value":0.5},"value":1},"title":"ISW2","titleFontWeight":"bold","titleFontSize":12.5,"titleColor":"#1A1A1A","titlePadding":4}},
  "color":{"field":"cond","type":"nominal","scale":{"domain":["*no refill","no refill","refill"],"range":["#808080","#000000","#FFA500"]},"legend":{"values":["no refill","refill"],"title":null,"orient":"none","legendX":257,"legendY":-52,"direction":"horizontal"}}
 }},
{"width":150,"height":104,"data":{"name":"E_Reb1_ISW1a"},
 "mark":{"type":"line","interpolate":"monotone","strokeWidth":2.2},
 "encoding":{
  "x":{"field":"x","type":"quantitative","scale":{"domain":[-1100,1100],"nice":false,"zero":false},"axis":{"values":[-1000,-750,-500,-250,0,250,500,750,1000],"labels":false,"ticks":false,"gridWidth":{"condition":{"test":"datum.value % 500 != 0","value":0.5},"value":1},"title":null}},
  "y":{"field":"y","type":"quantitative","scale":{"domain":[0.14,2.24],"nice":false,"zero":false},"axis":{"values":[0.25,0.5,0.75,1,1.25,1.5,1.75,2],"labels":false,"tickOpacity":{"condition":{"test":"(datum.value*2) % 1 != 0","value":0},"value":1},"gridWidth":{"condition":{"test":"(datum.value*2) % 1 != 0","value":0.5},"value":1},"title":null}},
  "color":{"field":"cond","type":"nominal","scale":{"domain":["*no refill","no refill","refill"],"range":["#808080","#000000","#FFA500"]},"legend":{"values":["no refill","refill"],"title":null,"orient":"none","legendX":257,"legendY":-52,"direction":"horizontal"}}
 }},
{"width":150,"height":104,"data":{"name":"E_BamHI_ISW1a"},
 "mark":{"type":"line","interpolate":"monotone","strokeWidth":2.2},
 "encoding":{
  "x":{"field":"x","type":"quantitative","scale":{"domain":[-1100,1100],"nice":false,"zero":false},"axis":{"values":[-1000,-750,-500,-250,0,250,500,750,1000],"labels":false,"ticks":false,"gridWidth":{"condition":{"test":"datum.value % 500 != 0","value":0.5},"value":1},"title":null}},
  "y":{"field":"y","type":"quantitative","scale":{"domain":[0.14,2.24],"nice":false,"zero":false},"axis":{"orient":"right","values":[0.25,0.5,0.75,1,1.25,1.5,1.75,2],"labels":false,"ticks":false,"gridWidth":{"condition":{"test":"(datum.value*2) % 1 != 0","value":0.5},"value":1},"title":"ISW1a","titleFontWeight":"bold","titleFontSize":12.5,"titleColor":"#1A1A1A","titlePadding":4}},
  "color":{"field":"cond","type":"nominal","scale":{"domain":["*no refill","no refill","refill"],"range":["#808080","#000000","#FFA500"]},"legend":{"values":["no refill","refill"],"title":null,"orient":"none","legendX":257,"legendY":-52,"direction":"horizontal"}}
 }},
{"width":150,"height":104,"data":{"name":"E_Reb1_Chd1"},
 "mark":{"type":"line","interpolate":"monotone","strokeWidth":2.2},
 "encoding":{
  "x":{"field":"x","type":"quantitative","scale":{"domain":[-1100,1100],"nice":false,"zero":false},"axis":{"values":[-1000,-750,-500,-250,0,250,500,750,1000],"format":"d","labelExpr":"datum.value % 500 != 0 ? '' : datum.label","labelAngle":-45,"labelAlign":"right","labelBaseline":"top","labelPadding":2,"tickOpacity":{"condition":{"test":"datum.value % 500 != 0","value":0},"value":1},"gridWidth":{"condition":{"test":"datum.value % 500 != 0","value":0.5},"value":1},"title":"distance to barrier site / bp","titlePadding":7}},
  "y":{"field":"y","type":"quantitative","scale":{"domain":[0.14,2.24],"nice":false,"zero":false},"axis":{"values":[0.25,0.5,0.75,1,1.25,1.5,1.75,2],"labels":false,"tickOpacity":{"condition":{"test":"(datum.value*2) % 1 != 0","value":0},"value":1},"gridWidth":{"condition":{"test":"(datum.value*2) % 1 != 0","value":0.5},"value":1},"title":null}},
  "color":{"field":"cond","type":"nominal","scale":{"domain":["*no refill","no refill","refill"],"range":["#808080","#000000","#FFA500"]},"legend":{"values":["no refill","refill"],"title":null,"orient":"none","legendX":257,"legendY":-52,"direction":"horizontal"}}
 }},
{"width":150,"height":104,"data":{"name":"E_BamHI_Chd1"},
 "mark":{"type":"line","interpolate":"monotone","strokeWidth":2.2},
 "encoding":{
  "x":{"field":"x","type":"quantitative","scale":{"domain":[-1100,1100],"nice":false,"zero":false},"axis":{"values":[-1000,-750,-500,-250,0,250,500,750,1000],"labels":false,"tickOpacity":{"condition":{"test":"datum.value % 500 != 0","value":0},"value":1},"gridWidth":{"condition":{"test":"datum.value % 500 != 0","value":0.5},"value":1},"title":null}},
  "y":{"field":"y","type":"quantitative","scale":{"domain":[0.14,2.24],"nice":false,"zero":false},"axis":{"orient":"right","values":[0.25,0.5,0.75,1,1.25,1.5,1.75,2],"labels":false,"ticks":false,"gridWidth":{"condition":{"test":"(datum.value*2) % 1 != 0","value":0.5},"value":1},"title":"Chd1","titleFontWeight":"bold","titleFontSize":12.5,"titleColor":"#1A1A1A","titlePadding":4}},
  "color":{"field":"cond","type":"nominal","scale":{"domain":["*no refill","no refill","refill"],"range":["#808080","#000000","#FFA500"]},"legend":{"values":["no refill","refill"],"title":null,"orient":"none","legendX":257,"legendY":-52,"direction":"horizontal"}}
 }}
]},
{"columns": 2, "spacing": {"row": 7, "column": 7}, "bounds": "flush", "concat": [
{"width":156,"height":104,"data":{"name":"S_Reb1_INO80"},
 "title":{"text":"S. pombe","anchor":"end","dx":35,"offset":22,"fontStyle":"italic"},
 "mark":{"type":"line","interpolate":"monotone","strokeWidth":2.2},
 "encoding":{
  "x":{"field":"x","type":"quantitative","scale":{"domain":[-1100,1100],"nice":false,"zero":false},"axis":{"orient":"top","values":[-1000,-750,-500,-250,0,250,500,750,1000],"labels":false,"ticks":false,"gridWidth":{"condition":{"test":"datum.value % 500 != 0","value":0.5},"value":1},"title":"Reb1","titleFontWeight":"bold","titleFontSize":12.5,"titleColor":"#1A1A1A","titlePadding":3}},
  "y":{"field":"y","type":"quantitative","scale":{"domain":[0.12,2.73],"nice":false,"zero":false},"axis":{"values":[0.5,1,1.5,2,2.5],"labels":false,"tickOpacity":{"condition":{"test":"datum.value % 1 != 0","value":0},"value":1},"gridWidth":{"condition":{"test":"datum.value % 1 != 0","value":0.5},"value":1},"title":null}},
  "color":{"field":"cond","type":"nominal","scale":{"domain":["*no refill","no refill","refill"],"range":["#808080","#000000","#FFA500"]},"legend":{"values":["no refill","refill"],"title":null,"orient":"none","legendX":257,"legendY":-52,"direction":"horizontal"}}
 }},
{"width":156,"height":104,"data":{"name":"S_BamHI_INO80"},
 "title":{"text":"SGD","anchor":"start","dx":36,"offset":22},
 "mark":{"type":"line","interpolate":"monotone","strokeWidth":2.2},
 "encoding":{
  "x":{"field":"x","type":"quantitative","scale":{"domain":[-1100,1100],"nice":false,"zero":false},"axis":{"orient":"top","values":[-1000,-750,-500,-250,0,250,500,750,1000],"labels":false,"ticks":false,"gridWidth":{"condition":{"test":"datum.value % 500 != 0","value":0.5},"value":1},"title":"BamHI","titleFontWeight":"bold","titleFontSize":12.5,"titleColor":"#1A1A1A","titlePadding":3}},
  "y":{"field":"y","type":"quantitative","scale":{"domain":[0.12,2.73],"nice":false,"zero":false},"axis":{"orient":"right","values":[0.5,1,1.5,2,2.5],"labels":false,"ticks":false,"gridWidth":{"condition":{"test":"datum.value % 1 != 0","value":0.5},"value":1},"title":"INO80","titleFontWeight":"bold","titleFontSize":12.5,"titleColor":"#1A1A1A","titlePadding":4}},
  "color":{"field":"cond","type":"nominal","scale":{"domain":["*no refill","no refill","refill"],"range":["#808080","#000000","#FFA500"]},"legend":{"values":["no refill","refill"],"title":null,"orient":"none","legendX":257,"legendY":-52,"direction":"horizontal"}}
 }},
{"width":156,"height":104,"data":{"name":"S_Reb1_ISW2"},
 "mark":{"type":"line","interpolate":"monotone","strokeWidth":2.2},
 "encoding":{
  "x":{"field":"x","type":"quantitative","scale":{"domain":[-1100,1100],"nice":false,"zero":false},"axis":{"values":[-1000,-750,-500,-250,0,250,500,750,1000],"labels":false,"ticks":false,"gridWidth":{"condition":{"test":"datum.value % 500 != 0","value":0.5},"value":1},"title":"*","titleX":5,"titleY":-88,"titleAlign":"left","titleBaseline":"alphabetic","titleColor":"#808080","titleFontSize":13}},
  "y":{"field":"y","type":"quantitative","scale":{"domain":[0.12,2.73],"nice":false,"zero":false},"axis":{"values":[0.5,1,1.5,2,2.5],"format":"d","labelExpr":"datum.value % 1 != 0 ? '' : datum.label","tickOpacity":{"condition":{"test":"datum.value % 1 != 0","value":0},"value":1},"gridWidth":{"condition":{"test":"datum.value % 1 != 0","value":0.5},"value":1},"title":"normalized dyad density","titlePadding":19}},
  "color":{"field":"cond","type":"nominal","scale":{"domain":["*no refill","no refill","refill"],"range":["#808080","#000000","#FFA500"]},"legend":{"values":["no refill","refill"],"title":null,"orient":"none","legendX":257,"legendY":-52,"direction":"horizontal"}}
 }},
{"width":156,"height":104,"data":{"name":"S_BamHI_ISW2"},
 "mark":{"type":"line","interpolate":"monotone","strokeWidth":2.2},
 "encoding":{
  "x":{"field":"x","type":"quantitative","scale":{"domain":[-1100,1100],"nice":false,"zero":false},"axis":{"values":[-1000,-750,-500,-250,0,250,500,750,1000],"labels":false,"ticks":false,"gridWidth":{"condition":{"test":"datum.value % 500 != 0","value":0.5},"value":1},"title":null}},
  "y":{"field":"y","type":"quantitative","scale":{"domain":[0.12,2.73],"nice":false,"zero":false},"axis":{"orient":"right","values":[0.5,1,1.5,2,2.5],"labels":false,"ticks":false,"gridWidth":{"condition":{"test":"datum.value % 1 != 0","value":0.5},"value":1},"title":"ISW2","titleFontWeight":"bold","titleFontSize":12.5,"titleColor":"#1A1A1A","titlePadding":4}},
  "color":{"field":"cond","type":"nominal","scale":{"domain":["*no refill","no refill","refill"],"range":["#808080","#000000","#FFA500"]},"legend":{"values":["no refill","refill"],"title":null,"orient":"none","legendX":257,"legendY":-52,"direction":"horizontal"}}
 }},
{"width":156,"height":104,"data":{"name":"S_Reb1_ISW1a"},
 "mark":{"type":"line","interpolate":"monotone","strokeWidth":2.2},
 "encoding":{
  "x":{"field":"x","type":"quantitative","scale":{"domain":[-1100,1100],"nice":false,"zero":false},"axis":{"values":[-1000,-750,-500,-250,0,250,500,750,1000],"labels":false,"ticks":false,"gridWidth":{"condition":{"test":"datum.value % 500 != 0","value":0.5},"value":1},"title":null}},
  "y":{"field":"y","type":"quantitative","scale":{"domain":[0.12,2.73],"nice":false,"zero":false},"axis":{"values":[0.5,1,1.5,2,2.5],"labels":false,"tickOpacity":{"condition":{"test":"datum.value % 1 != 0","value":0},"value":1},"gridWidth":{"condition":{"test":"datum.value % 1 != 0","value":0.5},"value":1},"title":null}},
  "color":{"field":"cond","type":"nominal","scale":{"domain":["*no refill","no refill","refill"],"range":["#808080","#000000","#FFA500"]},"legend":{"values":["no refill","refill"],"title":null,"orient":"none","legendX":257,"legendY":-52,"direction":"horizontal"}}
 }},
{"width":156,"height":104,"data":{"name":"S_BamHI_ISW1a"},
 "mark":{"type":"line","interpolate":"monotone","strokeWidth":2.2},
 "encoding":{
  "x":{"field":"x","type":"quantitative","scale":{"domain":[-1100,1100],"nice":false,"zero":false},"axis":{"values":[-1000,-750,-500,-250,0,250,500,750,1000],"labels":false,"ticks":false,"gridWidth":{"condition":{"test":"datum.value % 500 != 0","value":0.5},"value":1},"title":null}},
  "y":{"field":"y","type":"quantitative","scale":{"domain":[0.12,2.73],"nice":false,"zero":false},"axis":{"orient":"right","values":[0.5,1,1.5,2,2.5],"labels":false,"ticks":false,"gridWidth":{"condition":{"test":"datum.value % 1 != 0","value":0.5},"value":1},"title":"ISW1a","titleFontWeight":"bold","titleFontSize":12.5,"titleColor":"#1A1A1A","titlePadding":4}},
  "color":{"field":"cond","type":"nominal","scale":{"domain":["*no refill","no refill","refill"],"range":["#808080","#000000","#FFA500"]},"legend":{"values":["no refill","refill"],"title":null,"orient":"none","legendX":257,"legendY":-52,"direction":"horizontal"}}
 }},
{"width":156,"height":104,"data":{"name":"S_Reb1_Chd1"},
 "mark":{"type":"line","interpolate":"monotone","strokeWidth":2.2},
 "encoding":{
  "x":{"field":"x","type":"quantitative","scale":{"domain":[-1100,1100],"nice":false,"zero":false},"axis":{"values":[-1000,-750,-500,-250,0,250,500,750,1000],"format":"d","labelExpr":"datum.value % 500 != 0 ? '' : datum.label","labelAngle":-45,"labelAlign":"right","labelBaseline":"top","labelPadding":2,"tickOpacity":{"condition":{"test":"datum.value % 500 != 0","value":0},"value":1},"gridWidth":{"condition":{"test":"datum.value % 500 != 0","value":0.5},"value":1},"title":"distance to barrier site / bp","titlePadding":7}},
  "y":{"field":"y","type":"quantitative","scale":{"domain":[0.12,2.73],"nice":false,"zero":false},"axis":{"values":[0.5,1,1.5,2,2.5],"labels":false,"tickOpacity":{"condition":{"test":"datum.value % 1 != 0","value":0},"value":1},"gridWidth":{"condition":{"test":"datum.value % 1 != 0","value":0.5},"value":1},"title":null}},
  "color":{"field":"cond","type":"nominal","scale":{"domain":["*no refill","no refill","refill"],"range":["#808080","#000000","#FFA500"]},"legend":{"values":["no refill","refill"],"title":null,"orient":"none","legendX":257,"legendY":-52,"direction":"horizontal"}}
 }},
{"width":156,"height":104,"data":{"name":"S_BamHI_Chd1"},
 "mark":{"type":"line","interpolate":"monotone","strokeWidth":2.2},
 "encoding":{
  "x":{"field":"x","type":"quantitative","scale":{"domain":[-1100,1100],"nice":false,"zero":false},"axis":{"values":[-1000,-750,-500,-250,0,250,500,750,1000],"labels":false,"tickOpacity":{"condition":{"test":"datum.value % 500 != 0","value":0},"value":1},"gridWidth":{"condition":{"test":"datum.value % 500 != 0","value":0.5},"value":1},"title":null}},
  "y":{"field":"y","type":"quantitative","scale":{"domain":[0.12,2.73],"nice":false,"zero":false},"axis":{"orient":"right","values":[0.5,1,1.5,2,2.5],"labels":false,"ticks":false,"gridWidth":{"condition":{"test":"datum.value % 1 != 0","value":0.5},"value":1},"title":"Chd1","titleFontWeight":"bold","titleFontSize":12.5,"titleColor":"#1A1A1A","titlePadding":4}},
  "color":{"field":"cond","type":"nominal","scale":{"domain":["*no refill","no refill","refill"],"range":["#808080","#000000","#FFA500"]},"legend":{"values":["no refill","refill"],"title":null,"orient":"none","legendX":257,"legendY":-52,"direction":"horizontal"}}
 }}
]}
],
"config": {
 "font": "Liberation Sans",
 "view": {"stroke": "#333333", "strokeWidth": 1},
 "axis": {"domain": false, "gridColor": "#EBEBEB", "tickColor": "#333333", "tickSize": 4, "tickWidth": 1, "labelColor": "#4D4D4D", "labelFontSize": 11, "titleFontSize": 15, "titleFontWeight": "normal", "titleColor": "#000000"},
 "legend": {"symbolType": "stroke", "symbolStrokeWidth": 4, "symbolSize": 576, "labelFontSize": 14, "labelColor": "#000000", "columnPadding": 12, "labelOffset": 9},
 "title": {"fontSize": 22, "fontWeight": "bold", "color": "#000000"}
}
}
